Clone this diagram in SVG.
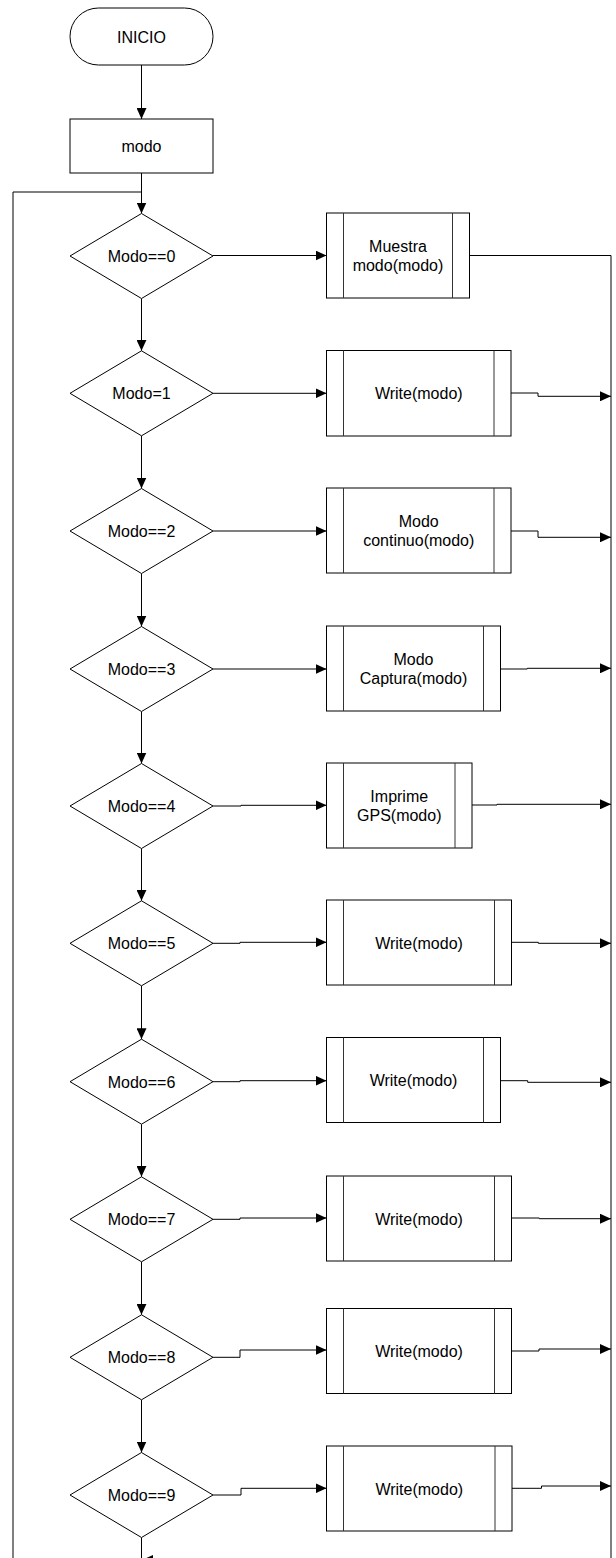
<svg xmlns="http://www.w3.org/2000/svg" width="616" height="1558" viewBox="0 0 616 1558">
<defs>
<marker id="ah" markerUnits="userSpaceOnUse" markerWidth="12" markerHeight="10" refX="11" refY="5" orient="auto">
<path d="M0,0 L11,5 L0,10 z" fill="#000"/>
</marker>
<style>
.s{fill:#fff;stroke:#000;stroke-width:1}
.in{fill:none;stroke:#333;stroke-width:1}
.c{fill:none;stroke:#000;stroke-width:1}
.a{fill:none;stroke:#000;stroke-width:1;marker-end:url(#ah)}
text{font-family:"Liberation Sans",Arial,sans-serif;font-size:16px;fill:#000;text-anchor:middle}
</style>
</defs>
<rect width="616" height="1558" fill="#fff"/>
<g id="connectors">
<path class="a" d="M141.5,65 V119"/>
<path class="a" d="M141.5,173 V213.5"/>
<path class="c" d="M13,1558 V192 H141.5"/>
<path class="a" d="M141.5,298.5 V350.8"/>
<path class="a" d="M141.5,435.8 V488.5"/>
<path class="a" d="M141.5,573.5 V626.5"/>
<path class="a" d="M141.5,711.5 V763.5"/>
<path class="a" d="M141.5,848.5 V900.8"/>
<path class="a" d="M141.5,985.8 V1039.2"/>
<path class="a" d="M141.5,1124.2 V1176.8"/>
<path class="a" d="M141.5,1261.8 V1314.8"/>
<path class="a" d="M141.5,1399.8 V1452.5"/>
<path class="c" d="M141.5,1537.5 V1558"/>
<polygon points="142,1560 153,1555 153,1565" fill="#000"/>
<path class="a" d="M213,255.5 H326.5"/>
<path class="a" d="M213,393.3 H326.5"/>
<path class="a" d="M213,531 H326.5"/>
<path class="a" d="M213,669 H326.5"/>
<path class="a" d="M213,806 H241 V805.3 H326.5"/>
<path class="a" d="M213,943.3 H240 V942.3 H326.5"/>
<path class="a" d="M213,1081.7 H240 V1080.7 H326.5"/>
<path class="a" d="M213,1219.3 H240 V1218 H326.5"/>
<path class="a" d="M213,1357.3 H240 V1350 H326.5"/>
<path class="a" d="M213,1495 H241 V1488.3 H326.5"/>
<path class="c" d="M469.5,255.5 H611 V1558"/>
<path class="a" d="M511,393 H538 V396.3 H611"/>
<path class="a" d="M511,531 H538 V537.3 H611"/>
<path class="a" d="M500.5,669 H527.3 V668.3 H611"/>
<path class="a" d="M472,805 H497 V804.3 H611"/>
<path class="a" d="M511.5,942.3 H538.3 V943.3 H611"/>
<path class="a" d="M500.5,1080.7 H527.7 V1082.3 H611"/>
<path class="a" d="M511.5,1218 H539.3 V1218.7 H611"/>
<path class="a" d="M511.5,1351 H539 V1349 H611"/>
<path class="a" d="M512,1488.3 H541.5 V1486 H611"/>
</g>
<g id="inicio">
<rect class="s" x="70" y="8" width="143" height="57" rx="28.5" ry="28.5"/>
<text x="141.5" y="42.5">INICIO</text>
</g>
<g id="modo">
<rect class="s" x="70" y="119" width="143" height="54"/>
<text x="141.5" y="152">modo</text>
</g>
<g id="d0"><polygon class="s" points="141.5,213.5 213,256 141.5,298.5 70,256"/><text x="141.5" y="262">Modo==0</text></g>
<g id="d1"><polygon class="s" points="141.5,350.8 213,393.3 141.5,435.8 70,393.3"/><text x="141.5" y="399.3">Modo=1</text></g>
<g id="d2"><polygon class="s" points="141.5,488.5 213,531 141.5,573.5 70,531"/><text x="141.5" y="537">Modo==2</text></g>
<g id="d3"><polygon class="s" points="141.5,626.5 213,669 141.5,711.5 70,669"/><text x="141.5" y="675">Modo==3</text></g>
<g id="d4"><polygon class="s" points="141.5,763.5 213,806 141.5,848.5 70,806"/><text x="141.5" y="812">Modo==4</text></g>
<g id="d5"><polygon class="s" points="141.5,900.8 213,943.3 141.5,985.8 70,943.3"/><text x="141.5" y="949.3">Modo==5</text></g>
<g id="d6"><polygon class="s" points="141.5,1039.2 213,1081.7 141.5,1124.2 70,1081.7"/><text x="141.5" y="1087.7">Modo==6</text></g>
<g id="d7"><polygon class="s" points="141.5,1176.8 213,1219.3 141.5,1261.8 70,1219.3"/><text x="141.5" y="1225.3">Modo==7</text></g>
<g id="d8"><polygon class="s" points="141.5,1314.8 213,1357.3 141.5,1399.8 70,1357.3"/><text x="141.5" y="1363.3">Modo==8</text></g>
<g id="d9"><polygon class="s" points="141.5,1452.5 213,1495 141.5,1537.5 70,1495"/><text x="141.5" y="1501">Modo==9</text></g>
<g id="b0"><rect class="s" x="326.5" y="213" width="143" height="85"/><path class="in" d="M343.5,213 V298 M452.5,213 V298"/><text x="398" y="251.6">Muestra</text><text x="398" y="270.9">modo(modo)</text></g>
<g id="b1"><rect class="s" x="326.5" y="350.5" width="184.5" height="85.5"/><path class="in" d="M343.5,350.5 V436 M494,350.5 V436"/><text x="418.75" y="399">Write(modo)</text></g>
<g id="b2"><rect class="s" x="326.5" y="488" width="184.5" height="85"/><path class="in" d="M343.5,488 V573 M494,488 V573"/><text x="418.75" y="526.6">Modo</text><text x="418.75" y="545.9">continuo(modo)</text></g>
<g id="b3"><rect class="s" x="326.5" y="626" width="174" height="85"/><path class="in" d="M343.5,626 V711 M483.5,626 V711"/><text x="413.5" y="664.6">Modo</text><text x="413.5" y="683.9">Captura(modo)</text></g>
<g id="b4"><rect class="s" x="326.5" y="763" width="145.5" height="85"/><path class="in" d="M343.5,763 V848 M455,763 V848"/><text x="399.25" y="801.6">Imprime</text><text x="399.25" y="820.9">GPS(modo)</text></g>
<g id="b5"><rect class="s" x="326.5" y="900" width="185" height="85"/><path class="in" d="M343.5,900 V985 M494.5,900 V985"/><text x="419" y="948.5">Write(modo)</text></g>
<g id="b6"><rect class="s" x="326.5" y="1037.5" width="174" height="85"/><path class="in" d="M343.5,1037.5 V1122.5 M483.5,1037.5 V1122.5"/><text x="413.5" y="1086">Write(modo)</text></g>
<g id="b7"><rect class="s" x="326.5" y="1176" width="185" height="85"/><path class="in" d="M343.5,1176 V1261 M494.5,1176 V1261"/><text x="419" y="1224.5">Write(modo)</text></g>
<g id="b8"><rect class="s" x="326.5" y="1308.5" width="185" height="85"/><path class="in" d="M343.5,1308.5 V1393.5 M494.5,1308.5 V1393.5"/><text x="419" y="1357">Write(modo)</text></g>
<g id="b9"><rect class="s" x="326.5" y="1446" width="185.5" height="85"/><path class="in" d="M343.5,1446 V1531 M495,1446 V1531"/><text x="419.25" y="1494.5">Write(modo)</text></g>
</svg>
